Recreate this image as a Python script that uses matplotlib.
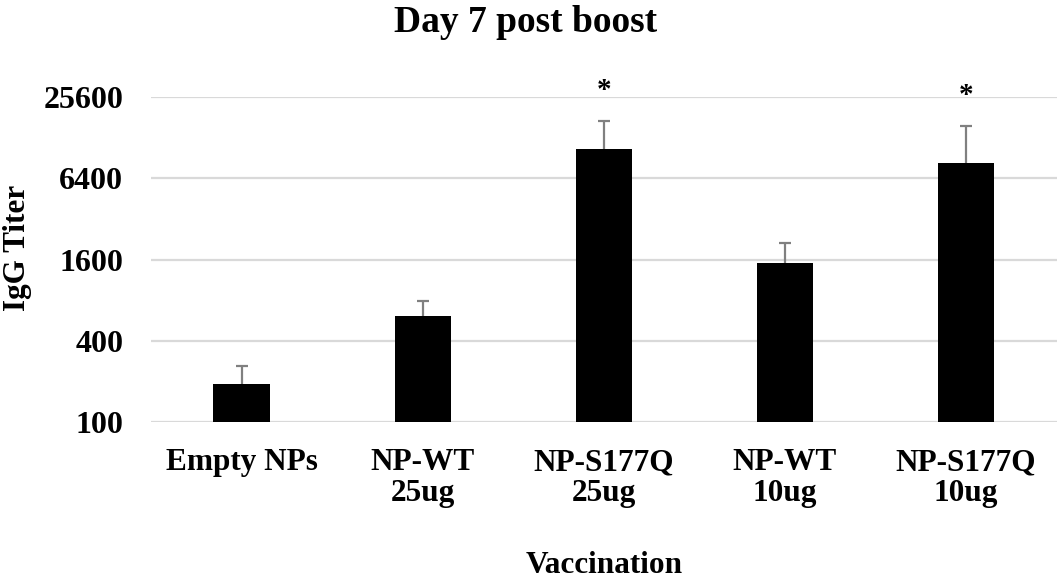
import matplotlib
matplotlib.use("Agg")
import matplotlib.pyplot as plt
from matplotlib.ticker import FixedLocator, NullLocator

categories = ["Empty NPs", "NP-WT\n25ug", "NP-S177Q\n25ug", "NP-WT\n10ug", "NP-S177Q\n10ug"]
means = [190, 610, 10500, 1510, 8300]
err_upper = [69, 180, 6500, 630, 7300]
significant = [False, False, True, False, True]
yticks = [100, 400, 1600, 6400, 25600]

plt.rcParams['font.family'] = ['Liberation Serif', 'DejaVu Serif']
plt.rcParams['font.weight'] = 'bold'

fig = plt.figure(figsize=(10.63, 5.81), dpi=100)
ax = fig.add_axes([0.142, 0.274, 0.852, 0.5585])

x = list(range(len(categories)))
ax.bar(x, means, width=0.31, color='black', zorder=3)
eb = ax.errorbar(x, means, yerr=[[0]*len(means), err_upper], fmt='none',
                 ecolor='#808080', elinewidth=1.6, capsize=4, capthick=1.6, zorder=4)
# hide the lower caps (one-sided error bars)
eb[1][0].set_visible(False)

for xi, m, e, s in zip(x, means, err_upper, significant):
    if s:
        ax.annotate('*', xy=(xi, m + e), xytext=(0, 22), textcoords='offset points',
                    ha='center', va='center', fontsize=21, fontweight='bold',
                    annotation_clip=False)

ax.set_yscale('log', base=2)
ax.set_ylim(100, 25600)
ax.set_xlim(-0.5, len(categories) - 0.5)
ax.yaxis.set_major_locator(FixedLocator(yticks))
ax.yaxis.set_minor_locator(NullLocator())
ax.set_yticklabels([str(v) for v in yticks])
ax.set_xticks(x)
ax.set_xticklabels(categories, fontsize=22.5, fontweight='bold', linespacing=1.1)
ax.tick_params(axis='y', labelsize=23, length=0, pad=20)
ax.tick_params(axis='x', length=0, pad=19)
for lab in ax.get_yticklabels():
    lab.set_fontweight('bold')

ax.grid(axis='y', color='#d9d9d9', linewidth=1.6, zorder=0)
ax.set_axisbelow(True)
for sp in ax.spines.values():
    sp.set_visible(False)

ax.set_ylabel('IgG Titer', fontsize=22.5, fontweight='bold')
ax.yaxis.set_label_coords(-0.131, 0.535)
ax.set_xlabel('Vaccination', fontsize=22.5, fontweight='bold', labelpad=31)
fig.text(0.494, 0.962, 'Day 7 post boost', ha='center', va='center',
         fontsize=27, fontweight='bold')

fig.savefig('out.png', dpi=100)
